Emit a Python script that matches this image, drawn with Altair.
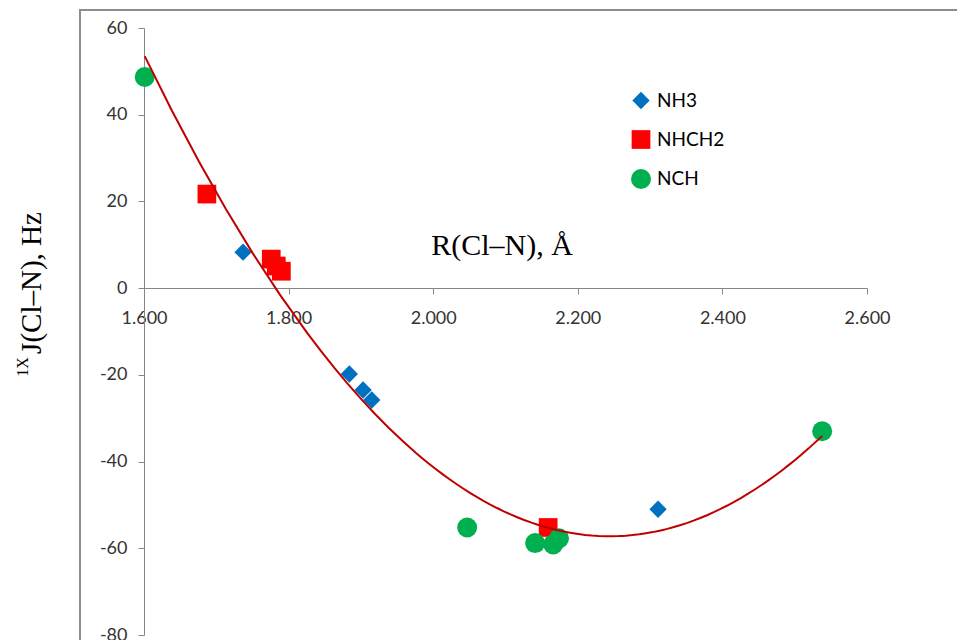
import altair as alt
import pandas as pd

# ---- data ----
series_names = ["NH3", "NHCH2", "NCH"]
nh3_r = [1.737, 1.884, 1.903, 1.915, 2.311]
nh3_j = [8.3, -19.8, -23.5, -25.8, -51.0]
nhch2_r = [1.687, 1.776, 1.783, 1.790, 2.159]
nhch2_j = [21.7, 6.7, 5.1, 3.9, -55.2]
nch_r = [1.601, 2.047, 2.141, 2.166, 2.174, 2.538]
nch_j = [48.7, -55.2, -58.8, -59.1, -57.7, -33.0]
x_ticks = [1.6, 1.8, 2.0, 2.2, 2.4, 2.6]
y_ticks = [-80, -60, -40, -20, 0, 20, 40, 60]

colors = ["#0070C0", "#FF0000", "#00B050"]
shapes = ["diamond", "square", "circle"]
sizes = [300, 400, 380]

rows = []
for name, rs, js in [("NH3", nh3_r, nh3_j), ("NHCH2", nhch2_r, nhch2_j), ("NCH", nch_r, nch_j)]:
    for r, j in zip(rs, js):
        rows.append({"series": name, "r": r, "j": j, "idx": len(rows)})
df = pd.DataFrame(rows)

W, H = 723, 607
axis_gray = "#868686"
minus_fix = "replace(datum.label, '\u2212', '-')"

legend = alt.Legend(
    title=None, orient="none", legendX=487, legendY=63,
    labelFont="Lato", labelFontSize=19, labelColor="black",
    symbolSize=200, rowPadding=19, labelOffset=6, padding=0,
    symbolStrokeWidth=0,
)

x_enc = alt.X(
    "r:Q",
    scale=alt.Scale(domain=[1.6, 2.6], nice=False, zero=False),
    axis=alt.Axis(values=x_ticks, format=".3f", title=None, grid=False,
                  offset=-(H - 260), labelPadding=15, tickSize=6, labelFlush=False),
)
y_enc = alt.Y(
    "j:Q",
    scale=alt.Scale(domain=[-80, 60], nice=False),
    axis=alt.Axis(values=y_ticks, title=None, grid=False, labelPadding=11, tickSize=6,
                  labelFlush=False, labelExpr=minus_fix),
)

points = alt.Chart(df).mark_point(filled=True, opacity=1, strokeWidth=0).encode(
    x=x_enc,
    y=y_enc,
    color=alt.Color("series:N", scale=alt.Scale(domain=series_names, range=colors), legend=legend),
    shape=alt.Shape("series:N", scale=alt.Scale(domain=series_names, range=shapes), legend=legend),
    size=alt.Size("series:N", scale=alt.Scale(domain=series_names, range=sizes), legend=None),
    order=alt.Order("idx:Q"),
)

trend = alt.Chart(df).transform_regression(
    "r", "j", method="poly", order=2
).mark_line(color="#C00000", strokeWidth=2).encode(x="r:Q", y="j:Q")

one = pd.DataFrame({"a": [0]})
border = alt.Chart(one).mark_rect(fillOpacity=0, stroke="#8C8C8C", strokeWidth=2).encode(
    x=alt.value(-64), x2=alt.value(W + 200), y=alt.value(-18), y2=alt.value(H + 100)
)

x_title = alt.Chart(one).mark_text(
    text="R(Cl–N), Å", font="Liberation Serif", fontSize=30, align="center",
    baseline="middle", color="black"
).encode(x=alt.value(358), y=alt.value(218))

y_title = alt.Chart(one).mark_text(
    text="J(Cl–N), Hz", font="Liberation Serif", fontSize=29, align="center",
    baseline="middle", angle=270, color="black"
).encode(x=alt.value(-112), y=alt.value(255))

y_sup = alt.Chart(one).mark_text(
    text="1X", font="Liberation Serif", fontSize=16, align="center",
    baseline="middle", angle=270, color="black"
).encode(x=alt.value(-121), y=alt.value(339))

chart = alt.layer(border, points, trend, x_title, y_title, y_sup).properties(
    width=W, height=H,
    autosize=alt.AutoSizeParams(type="none"),
    padding={"left": 136, "top": 20, "right": 90, "bottom": 5},
).configure_axis(
    domainColor=axis_gray, tickColor=axis_gray, labelColor="#333333",
    labelFont="Lato", labelFontSize=18, domainWidth=1,
).configure_view(strokeWidth=0)

chart.save("out.html", embed_options={"renderer": "svg", "actions": False})
